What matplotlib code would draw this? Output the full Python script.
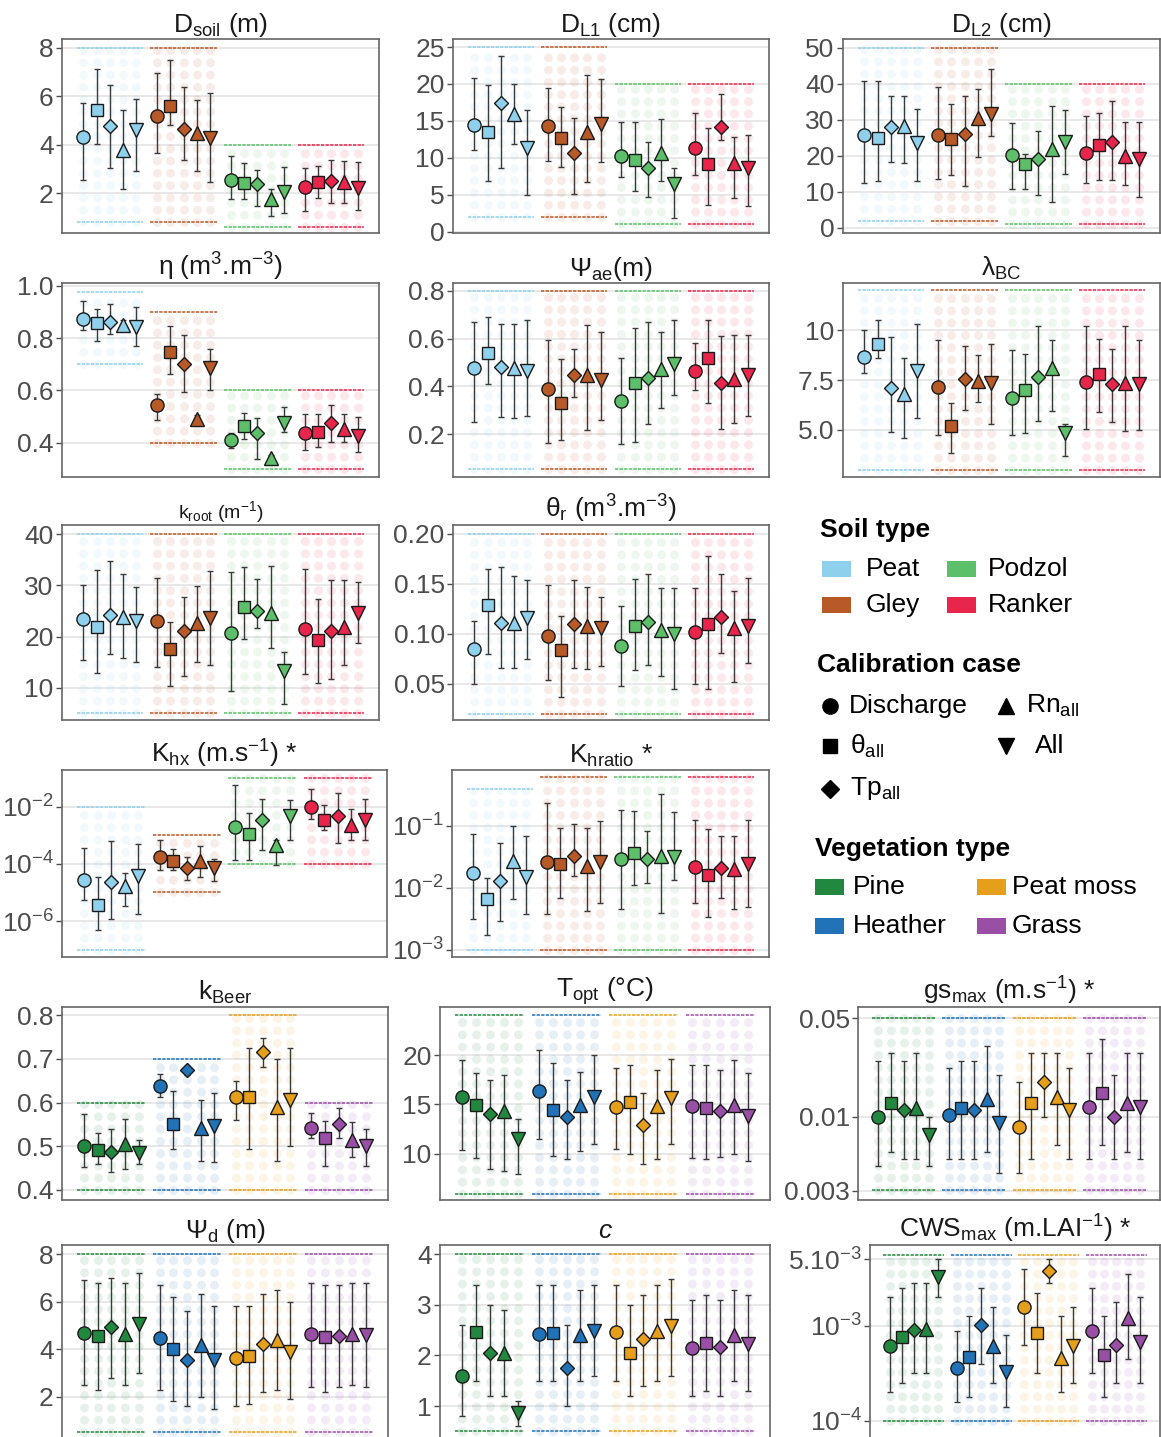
import numpy as np
import matplotlib
matplotlib.use("Agg")
import matplotlib.pyplot as plt
from matplotlib.patches import Rectangle
from matplotlib.ticker import FixedLocator, FixedFormatter, NullLocator

plt.rcParams['font.family'] = ['Liberation Sans', 'DejaVu Sans']
plt.rcParams['mathtext.fontset'] = 'custom'
plt.rcParams['mathtext.rm'] = 'Liberation Sans'
plt.rcParams['mathtext.it'] = 'Liberation Sans:italic'
plt.rcParams['mathtext.bf'] = 'Liberation Sans:bold'
plt.rcParams['mathtext.default'] = 'regular'

# ---------------------------------------------------------------- categories
SOILS = ['Peat', 'Gley', 'Podzol', 'Ranker']
SOIL_COLORS = ['#8fd0ec', '#b85a28', '#5dbf6a', '#e8264c']
VEGS = ['Pine', 'Heather', 'Peat moss', 'Grass']
VEG_COLORS = ['#23883f', '#2172b6', '#e69f1a', '#9a4fa6']
CASES = ['Discharge', r'θ$_{all}$', r'Tp$_{all}$', r'Rn$_{all}$', 'All']
MARKERS = ['o', 's', 'D', '^', 'v']

# ---------------------------------------------------------------- D_soil (m)
DSOIL_MEAN = [[4.30, 5.45, 4.77, 3.78, 4.60], [5.18, 5.61, 4.67, 4.50, 4.27],
              [2.56, 2.43, 2.38, 1.77, 2.04], [2.24, 2.45, 2.49, 2.45, 2.22]]
DSOIL_LO = [[2.56, 4.03, 3.03, 2.15, 2.92], [3.67, 4.80, 3.35, 2.90, 2.45],
            [1.77, 1.74, 1.47, 1.06, 1.19], [1.26, 1.80, 1.57, 1.60, 1.30]]
DSOIL_HI = [[5.72, 7.15, 6.47, 5.43, 5.90], [6.96, 7.50, 6.38, 5.86, 6.15],
            [3.55, 3.24, 2.97, 2.18, 3.07], [3.03, 3.10, 3.38, 3.33, 3.27]]
DSOIL_RANGE = [[0.8, 8.0], [0.8, 8.0], [0.6, 4.0], [0.6, 4.0]]

# ---------------------------------------------------------------- D_L1 (cm)
DL1_MEAN = [[14.45, 13.5, 17.45, 16.0, 11.3], [14.35, 12.65, 10.7, 13.5, 14.6],
            [10.3, 9.7, 8.6, 10.7, 6.5], [11.3, 9.1, 14.2, 9.25, 8.6]]
DL1_LO = [[11.05, 6.8, 8.6, 11.85, 5.0], [9.6, 8.8, 5.1, 6.7, 9.4],
          [7.4, 5.45, 4.7, 6.9, 1.9], [7.7, 3.6, 12.4, 4.6, 3.4]]
DL1_HI = [[20.8, 19.8, 23.8, 20.0, 16.5], [19.4, 16.9, 15.4, 21.2, 20.7],
          [14.9, 14.9, 12.2, 15.2, 8.6], [16.1, 14.0, 18.7, 12.8, 13.1]]
DL1_RANGE = [[2, 25], [2, 25], [1, 20], [1, 20]]

# ---------------------------------------------------------------- D_L2 (cm)
DL2_MEAN = [[25.9, 25.0, 27.9, 28.2, 23.5], [25.9, 24.8, 26.1, 30.4, 31.5],
            [20.3, 17.6, 19.1, 21.9, 23.9], [20.8, 23.0, 23.7, 20.0, 19.1]]
DL2_LO = [[12.4, 12.9, 18.3, 18.0, 12.9], [13.7, 14.8, 11.7, 19.6, 25.4],
          [10.7, 10.7, 9.1, 7.3, 15.0], [12.6, 13.2, 13.2, 12.0, 8.7]]
DL2_HI = [[40.7, 40.7, 36.7, 36.7, 33.1], [39.0, 34.3, 36.7, 38.4, 44.0],
          [29.1, 20.5, 26.9, 33.7, 32.8], [31.1, 31.9, 35.2, 29.4, 29.4]]
DL2_RANGE = [[2, 50], [2, 50], [1, 40], [1, 40]]

# ---------------------------------------------------------------- eta (m3.m-3)
ETA_MEAN = [[0.874, 0.857, 0.860, 0.850, 0.842], [0.543, 0.748, 0.700, 0.490, 0.685],
            [0.410, 0.465, 0.436, 0.341, 0.476], [0.436, 0.442, 0.476, 0.455, 0.426]]
ETA_LO = [[0.830, 0.790, 0.815, 0.830, 0.770], [0.487, 0.663, 0.594, 0.476, 0.600],
          [0.382, 0.414, 0.337, 0.329, 0.442], [0.373, 0.385, 0.404, 0.404, 0.367]]
ETA_HI = [[0.940, 0.910, 0.930, 0.870, 0.920], [0.587, 0.846, 0.810, 0.505, 0.760],
          [0.436, 0.515, 0.495, 0.354, 0.537], [0.512, 0.512, 0.543, 0.512, 0.500]]
ETA_RANGE = [[0.70, 0.975], [0.40, 0.90], [0.30, 0.60], [0.30, 0.60]]

# ---------------------------------------------------------------- Psi_ae (m)
PSIAE_MEAN = [[0.475, 0.538, 0.482, 0.478, 0.464], [0.387, 0.329, 0.447, 0.447, 0.426],
              [0.340, 0.415, 0.436, 0.471, 0.493], [0.466, 0.517, 0.415, 0.429, 0.447]]
PSIAE_LO = [[0.252, 0.408, 0.273, 0.266, 0.276], [0.162, 0.176, 0.354, 0.215, 0.259],
            [0.159, 0.166, 0.243, 0.308, 0.364], [0.385, 0.329, 0.220, 0.245, 0.277]]
PSIAE_HI = [[0.670, 0.689, 0.660, 0.663, 0.680], [0.594, 0.514, 0.556, 0.656, 0.626],
            [0.517, 0.643, 0.668, 0.629, 0.677], [0.583, 0.677, 0.610, 0.617, 0.617]]
PSIAE_RANGE = [[0.053, 0.8], [0.053, 0.8], [0.053, 0.8], [0.053, 0.8]]

# ---------------------------------------------------------------- lambda_BC
LBC_MEAN = [[8.63, 9.33, 7.12, 6.80, 7.95], [7.17, 5.17, 7.53, 7.47, 7.37],
            [6.58, 7.00, 7.67, 8.12, 4.83], [7.42, 7.78, 7.30, 7.37, 7.28]]
LBC_LO = [[7.87, 8.58, 4.87, 4.58, 5.58], [4.75, 3.83, 6.00, 6.38, 5.28],
          [4.72, 4.83, 5.42, 5.92, 3.67], [5.03, 5.87, 5.37, 4.92, 4.97]]
LBC_HI = [[10.0, 10.53, 9.67, 8.58, 10.33], [9.53, 6.33, 9.20, 8.75, 9.30],
          [9.00, 8.80, 10.2, 9.53, 5.28], [10.2, 9.58, 9.05, 10.2, 9.53]]
LBC_RANGE = [[3, 12], [3, 12], [3, 12], [3, 12]]

# ---------------------------------------------------------------- k_root (m-1)
KROOT_MEAN = [[23.35, 21.9, 24.2, 23.9, 23.0], [23.1, 17.55, 21.1, 22.7, 23.7],
              [20.7, 25.7, 25.0, 24.6, 13.25], [21.4, 19.3, 21.1, 21.9, 24.6]]
KROOT_LO = [[15.5, 12.9, 16.5, 15.9, 15.0], [14.1, 10.3, 12.2, 15.0, 14.4],
            [9.4, 19.6, 21.6, 17.7, 6.8], [12.6, 11.0, 11.8, 14.4, 18.8]]
KROOT_HI = [[30.05, 33.0, 34.8, 32.2, 29.7], [31.5, 22.9, 27.8, 29.9, 32.8],
            [32.6, 33.5, 31.3, 33.75, 16.9], [33.3, 27.4, 31.0, 31.0, 30.6]]
KROOT_RANGE = [[5, 40], [5, 40], [5, 40], [5, 40]]

# ---------------------------------------------------------------- theta_r (m3.m-3)
THR_MEAN = [[0.085, 0.1285, 0.1105, 0.111, 0.1155], [0.0978, 0.0837, 0.1094, 0.108, 0.106],
            [0.0877, 0.108, 0.112, 0.1038, 0.100], [0.102, 0.1094, 0.117, 0.106, 0.108]]
THR_LO = [[0.0497, 0.0797, 0.0653, 0.0653, 0.0747], [0.0537, 0.037, 0.066, 0.0647, 0.068],
          [0.0476, 0.0637, 0.0687, 0.058, 0.0443], [0.0493, 0.0443, 0.081, 0.052, 0.0703]]
THR_HI = [[0.113, 0.1646, 0.167, 0.158, 0.154], [0.149, 0.118, 0.154, 0.1465, 0.137],
          [0.128, 0.1545, 0.160, 0.146, 0.146], [0.146, 0.178, 0.160, 0.143, 0.1555]]
THR_RANGE = [[0.02, 0.2], [0.02, 0.2], [0.02, 0.2], [0.02, 0.2]]

# ---------------------------------------------------------------- K_hx (m.s-1), log10
KHX_MEAN = [[-4.57, -5.43, -4.63, -4.78, -4.42], [-3.75, -3.90, -4.13, -3.90, -4.13],
            [-2.70, -2.94, -2.47, -3.35, -2.33], [-2.02, -2.47, -2.33, -2.62, -2.47]]
KHX_LO = [[-5.25, -6.30, -5.92, -5.49, -5.74], [-4.20, -4.22, -4.57, -4.46, -4.61],
          [-3.85, -3.85, -3.50, -4.05, -3.17], [-2.44, -2.80, -3.26, -3.17, -3.17]]
KHX_HI = [[-3.44, -4.46, -3.20, -4.32, -3.29], [-3.17, -3.46, -3.75, -3.38, -3.81],
          [-1.24, -2.23, -1.74, -3.17, -1.77], [-1.36, -1.94, -1.51, -2.06, -1.71]]
KHX_RANGE = [[-7, -2], [-5, -3], [-4, -1], [-4, -1]]

# ---------------------------------------------------------------- K_hratio, log10
KHR_MEAN = [[-1.76, -2.18, -1.89, -1.57, -1.82], [-1.58, -1.62, -1.49, -1.65, -1.58],
            [-1.54, -1.44, -1.54, -1.49, -1.50], [-1.67, -1.80, -1.68, -1.70, -1.62]]
KHR_LO = [[-2.50, -2.76, -2.54, -2.19, -2.43], [-2.43, -2.17, -1.81, -2.37, -2.24],
          [-2.35, -1.96, -1.92, -2.41, -1.87], [-2.24, -2.47, -2.17, -2.34, -2.31]]
KHR_HI = [[-1.13, -1.84, -1.28, -1.00, -1.16], [-0.63, -1.04, -0.97, -1.04, -0.93],
          [-0.74, -0.76, -1.08, -0.49, -0.78], [-0.90, -1.05, -1.17, -1.16, -0.90]]
KHR_RANGE = [[-3, -0.40], [-3, -0.22], [-3, -0.22], [-3, -0.22]]

# ---------------------------------------------------------------- k_Beer
KBEER_MEAN = [[0.501, 0.492, 0.488, 0.505, 0.484], [0.638, 0.550, 0.674, 0.542, 0.546],
              [0.614, 0.614, 0.715, 0.589, 0.606], [0.541, 0.518, 0.550, 0.515, 0.500]]
KBEER_LO = [[0.452, 0.460, 0.441, 0.449, 0.460], [0.614, 0.494, 0.663, 0.467, 0.465],
            [0.561, 0.494, 0.681, 0.467, 0.501], [0.520, 0.456, 0.520, 0.475, 0.456]]
KBEER_HI = [[0.575, 0.530, 0.539, 0.563, 0.515], [0.666, 0.627, 0.685, 0.606, 0.621],
            [0.650, 0.725, 0.747, 0.699, 0.725], [0.576, 0.557, 0.588, 0.555, 0.539]]
KBEER_RANGE = [[0.4, 0.6], [0.4, 0.7], [0.4, 0.8], [0.4, 0.6]]

# ---------------------------------------------------------------- T_opt (degC)
TOPT_MEAN = [[15.8, 14.9, 14.0, 14.3, 11.5], [16.4, 14.4, 13.7, 14.9, 15.8],
             [14.7, 15.3, 12.9, 14.8, 15.7], [14.8, 14.6, 14.3, 14.9, 13.8]]
TOPT_LO = [[10.4, 9.6, 8.5, 8.3, 8.0], [11.5, 9.8, 9.5, 10.3, 11.0],
           [10.5, 10.0, 9.0, 9.5, 11.0], [9.6, 9.5, 9.7, 10.0, 9.3]]
TOPT_HI = [[19.5, 18.2, 17.5, 18.0, 13.5], [20.5, 19.2, 17.5, 18.3, 20.0],
           [18.7, 19.0, 16.2, 18.5, 19.6], [19.0, 19.0, 18.5, 19.5, 18.2]]
TOPT_RANGE = [[6, 24], [6, 24], [6, 24], [6, 24]]

# ---------------------------------------------------------------- gs_max (m.s-1), log10
GS_MEAN = [[-2.00, -1.90, -1.95, -1.94, -2.13], [-1.99, -1.94, -1.95, -1.87, -2.04],
           [-2.07, -1.90, -1.75, -1.86, -1.95], [-1.93, -1.83, -2.00, -1.90, -1.93]]
GS_LO = [[-2.35, -2.25, -2.30, -2.30, -2.35], [-2.30, -2.30, -2.30, -2.25, -2.40],
         [-2.40, -2.30, -2.00, -2.20, -2.30], [-2.30, -2.20, -2.30, -2.25, -2.30]]
GS_HI = [[-1.60, -1.55, -1.60, -1.55, -2.00], [-1.65, -1.60, -1.60, -1.50, -1.70],
         [-1.75, -1.55, -1.55, -1.55, -1.65], [-1.55, -1.45, -1.70, -1.55, -1.55]]
GS_RANGE = [[-2.52, -1.30], [-2.52, -1.30], [-2.52, -1.30], [-2.52, -1.30]]

# ---------------------------------------------------------------- Psi_d (m)
PSID_MEAN = [[4.68, 4.55, 4.93, 4.64, 5.06], [4.47, 4.00, 3.55, 4.17, 3.55],
             [3.63, 3.71, 4.22, 4.39, 3.88], [4.64, 4.50, 4.55, 4.64, 4.60]]
PSID_LO = [[2.5, 2.3, 2.8, 2.5, 3.0], [2.3, 1.8, 1.6, 2.0, 1.5],
           [1.6, 1.7, 2.2, 2.3, 1.9], [2.4, 2.2, 2.4, 2.5, 2.4]]
PSID_HI = [[6.9, 6.8, 7.0, 6.8, 7.2], [6.7, 6.2, 5.6, 6.3, 5.8],
           [5.8, 5.8, 6.3, 6.5, 6.0], [6.8, 6.7, 6.7, 6.8, 6.8]]
PSID_RANGE = [[0.5, 8], [0.5, 8], [0.5, 8], [0.5, 8]]

# ---------------------------------------------------------------- c
C_MEAN = [[1.60, 2.46, 2.05, 2.05, 0.86], [2.42, 2.44, 1.75, 2.40, 2.48],
          [2.46, 2.05, 2.32, 2.48, 2.58], [2.15, 2.24, 2.17, 2.40, 2.22]]
C_LO = [[0.8, 1.5, 1.2, 1.2, 0.6], [1.5, 1.5, 1.0, 1.5, 1.6],
        [1.5, 1.2, 1.4, 1.5, 1.6], [1.2, 1.3, 1.2, 1.5, 1.3]]
C_HI = [[2.6, 3.4, 3.0, 2.9, 1.1], [3.4, 3.4, 2.6, 3.3, 3.4],
        [3.4, 3.0, 3.2, 3.4, 3.5], [3.1, 3.2, 3.1, 3.3, 3.2]]
C_RANGE = [[0.5, 4], [0.5, 4], [0.5, 4], [0.5, 4]]

# ---------------------------------------------------------------- CWS_max (m.LAI-1), log10
CWS_MEAN = [[-3.21, -3.12, -3.04, -3.03, -2.49], [-3.44, -3.33, -2.99, -3.21, -3.48],
            [-2.80, -3.07, -2.42, -3.34, -3.21], [-3.05, -3.31, -3.20, -2.92, -3.17]]
CWS_LO = [[-3.70, -3.60, -3.50, -3.50, -2.70], [-3.80, -3.75, -3.40, -3.60, -3.85],
          [-3.20, -3.50, -2.55, -3.70, -3.60], [-3.50, -3.75, -3.60, -3.35, -3.60]]
CWS_HI = [[-2.70, -2.60, -2.55, -2.55, -2.30], [-3.05, -2.90, -2.60, -2.80, -3.10],
          [-2.40, -2.65, -2.30, -2.90, -2.80], [-2.60, -2.90, -2.75, -2.45, -2.70]]
CWS_RANGE = [[-4, -2.25], [-4, -2.25], [-4, -2.25], [-4, -2.25]]

# ---------------------------------------------------------------- figure
W, H = 1161, 1437
fig = plt.figure(figsize=(W / 100, H / 100), dpi=100)

FS = 19
TICK_COLOR = '#4d4d4d'
OFFSETS = np.array([-2, -1, 0, 1, 2]) * 0.18
MSIZE = [9.5, 8.3, 7.6, 10.5, 10.5]


def px_axes(x0, y0, x1, y1):
    return fig.add_axes([x0 / W, 1 - y1 / H, (x1 - x0) / W, (y1 - y0) / H])


def panel(box, title, colors, mean, lo, hi, rng, ylim, ticks, labels,
          log=False, title_size=FS):
    ax = px_axes(*box)
    mean, lo, hi, rng = (np.asarray(a, float) for a in (mean, lo, hi, rng))
    if log:
        ax.set_yscale('log')
        mean, lo, hi, rng = 10 ** mean, 10 ** lo, 10 ** hi, 10 ** rng
    ax.set_xlim(0.35, 4.65)
    ax.set_ylim(*ylim)
    for g in range(4):
        col = colors[g]
        xs = g + 1 + OFFSETS
        for v in rng[g]:
            ax.plot([g + 1 - 0.45, g + 1 + 0.45], [v, v], color=col, lw=1.1,
                    ls=(0, (2.2, 0.8)), zorder=1)
        for k in range(5):
            ax.plot([xs[k], xs[k]], rng[g], color=col, alpha=0.11, lw=6.5,
                    ls=(0, (0.01, 1.35)), dash_capstyle='round', zorder=1)
            ax.errorbar(xs[k], mean[g, k],
                        yerr=[[mean[g, k] - lo[g, k]], [hi[g, k] - mean[g, k]]],
                        fmt='none', ecolor='#3a3a3a', elinewidth=1.0,
                        capsize=2.2, capthick=1.0, zorder=3)
            ax.plot(xs[k], mean[g, k], marker=MARKERS[k], ms=MSIZE[k],
                    mfc=col, mec='#1a1a1a', mew=1.0, ls='none', zorder=4)
    ax.set_xticks([])
    ax.yaxis.set_major_locator(FixedLocator(ticks))
    ax.yaxis.set_major_formatter(FixedFormatter(labels))
    ax.yaxis.set_minor_locator(NullLocator())
    ax.yaxis.grid(True, color='#e6e6e6', lw=1.3)
    ax.set_axisbelow(True)
    ax.tick_params(axis='y', labelsize=FS, colors=TICK_COLOR, length=4,
                   width=1.0, pad=2)
    for s in ax.spines.values():
        s.set_color('#666666')
        s.set_linewidth(1.2)
    ax.set_title(title, fontsize=title_size, pad=5, color='#1a1a1a')
    return ax


# Row 1
panel((62, 39, 379, 233), r'D$_{soil}$ (m)', SOIL_COLORS, DSOIL_MEAN, DSOIL_LO,
      DSOIL_HI, DSOIL_RANGE, (0.35, 8.37), [2, 4, 6, 8], ['2', '4', '6', '8'])
panel((453, 39, 769, 233), r'D$_{L1}$ (cm)', SOIL_COLORS, DL1_MEAN, DL1_LO,
      DL1_HI, DL1_RANGE, (-0.2, 26.1), [0, 5, 10, 15, 20, 25],
      ['0', '5', '10', '15', '20', '25'])
panel((843, 39, 1160, 233), r'D$_{L2}$ (cm)', SOIL_COLORS, DL2_MEAN, DL2_LO,
      DL2_HI, DL2_RANGE, (-1.4, 52.4), [0, 10, 20, 30, 40, 50],
      ['0', '10', '20', '30', '40', '50'])

# Row 2
panel((62, 283, 379, 477), r'η (m$^{3}$.m$^{-3}$)', SOIL_COLORS, ETA_MEAN, ETA_LO,
      ETA_HI, ETA_RANGE, (0.27, 1.01), [0.4, 0.6, 0.8, 1.0],
      ['0.4', '0.6', '0.8', '1.0'])
panel((453, 283, 769, 477), r'Ψ$_{ae}$(m)', SOIL_COLORS, PSIAE_MEAN, PSIAE_LO,
      PSIAE_HI, PSIAE_RANGE, (0.02, 0.833), [0.2, 0.4, 0.6, 0.8],
      ['0.2', '0.4', '0.6', '0.8'])
panel((843, 283, 1160, 477), r'λ$_{BC}$', SOIL_COLORS, LBC_MEAN, LBC_LO,
      LBC_HI, LBC_RANGE, (2.63, 12.37), [5, 7.5, 10], ['5.0', '7.5', '10'])

# Row 3
panel((62, 525, 379, 720), r'k$_{root}$ (m$^{-1}$)', SOIL_COLORS, KROOT_MEAN,
      KROOT_LO, KROOT_HI, KROOT_RANGE, (3.7, 41.8), [10, 20, 30, 40],
      ['10', '20', '30', '40'], title_size=14)
panel((453, 525, 769, 720), r'θ$_{r}$ (m$^{3}$.m$^{-3}$)', SOIL_COLORS, THR_MEAN,
      THR_LO, THR_HI, THR_RANGE, (0.0136, 0.209), [0.05, 0.10, 0.15, 0.20],
      ['0.05', '0.10', '0.15', '0.20'])

# Row 4
panel((62, 770, 387, 957), r'K$_{hx}$ (m.s$^{-1}$) *', SOIL_COLORS, KHX_MEAN,
      KHX_LO, KHX_HI, KHX_RANGE, (10 ** -7.26, 10 ** -0.71),
      [1e-6, 1e-4, 1e-2], [r'10$^{-6}$', r'10$^{-4}$', r'10$^{-2}$'], log=True)
panel((452, 770, 769, 957), r'K$_{hratio}$ *', SOIL_COLORS, KHR_MEAN, KHR_LO,
      KHR_HI, KHR_RANGE, (10 ** -3.12, 10 ** -0.10), [1e-3, 1e-2, 1e-1],
      [r'10$^{-3}$', r'10$^{-2}$', r'10$^{-1}$'], log=True)

# Row 5
panel((62, 1007, 388, 1200), r'k$_{Beer}$', VEG_COLORS, KBEER_MEAN, KBEER_LO,
      KBEER_HI, KBEER_RANGE, (0.377, 0.819), [0.4, 0.5, 0.6, 0.7, 0.8],
      ['0.4', '0.5', '0.6', '0.7', '0.8'])
panel((440, 1007, 770, 1200), r'T$_{opt}$ (°C)', VEG_COLORS, TOPT_MEAN, TOPT_LO,
      TOPT_HI, TOPT_RANGE, (5.35, 24.85), [10, 15, 20], ['10', '15', '20'])
panel((858, 1007, 1160, 1200), r'gs$_{max}$ (m.s$^{-1}$) *', VEG_COLORS, GS_MEAN,
      GS_LO, GS_HI, GS_RANGE, (10 ** -2.59, 10 ** -1.22), [0.003, 0.01, 0.05],
      ['0.003', '0.01', '0.05'], log=True)

# Row 6
panel((62, 1245, 388, 1440), r'Ψ$_{d}$ (m)', VEG_COLORS, PSID_MEAN, PSID_LO,
      PSID_HI, PSID_RANGE, (0.18, 8.38), [2, 4, 6, 8], ['2', '4', '6', '8'])
panel((440, 1245, 770, 1440), r'$\it{c}$', VEG_COLORS, C_MEAN, C_LO, C_HI,
      C_RANGE, (0.33, 4.18), [1, 2, 3, 4], ['1', '2', '3', '4'])
panel((870, 1245, 1160, 1440), r'CWS$_{max}$ (m.LAI$^{-1}$) *', VEG_COLORS,
      CWS_MEAN, CWS_LO, CWS_HI, CWS_RANGE, (10 ** -4.2, 10 ** -2.15),
      [1e-4, 1e-3, 5e-3], [r'10$^{-4}$', r'10$^{-3}$', r'5.10$^{-3}$'], log=True)

# ---------------------------------------------------------------- legend block
leg = px_axes(790, 500, 1161, 965)
leg.set_xlim(790, 1161)
leg.set_ylim(965, 500)
leg.axis('off')


def swatch_rows(y0, labels, colors, xs_box, xs_txt, dy):
    for i, (lab, col) in enumerate(zip(labels, colors)):
        col_idx, row_idx = (0, i) if i < 2 else (1, i - 2)
        y = y0 + row_idx * dy
        leg.add_patch(Rectangle((xs_box[col_idx], y - 8), 29, 16,
                                facecolor=col, edgecolor='none'))
        leg.text(xs_txt[col_idx], y, lab, fontsize=FS, va='center', ha='left')


leg.text(820, 530, 'Soil type', fontsize=FS, fontweight='bold', va='center')
swatch_rows(569, [SOILS[0], SOILS[1], SOILS[2], SOILS[3]],
            [SOIL_COLORS[0], SOIL_COLORS[1], SOIL_COLORS[2], SOIL_COLORS[3]],
            (822, 947), (866, 988), 36)

leg.text(817, 665, 'Calibration case', fontsize=FS, fontweight='bold', va='center')
case_pos = [(830, 706), (830, 746), (830, 789), (1006, 706), (1006, 746)]
txt_x = [849, 850, 850, 1026, 1035]
leg_ms = [11, 9.5, 9.5, 12, 12]
for k in range(5):
    mx, my = case_pos[k]
    leg.plot(mx, my, marker=MARKERS[k], ms=leg_ms[k], color='black', ls='none')
    leg.text(txt_x[k], my, CASES[k], fontsize=FS, va='center', ha='left')

leg.text(815, 849, 'Vegetation type', fontsize=FS, fontweight='bold', va='center')
swatch_rows(887, [VEGS[0], VEGS[1], VEGS[2], VEGS[3]],
            [VEG_COLORS[0], VEG_COLORS[1], VEG_COLORS[2], VEG_COLORS[3]],
            (815, 977), (853, 1012), 39)

fig.savefig('out.png', dpi=100)
